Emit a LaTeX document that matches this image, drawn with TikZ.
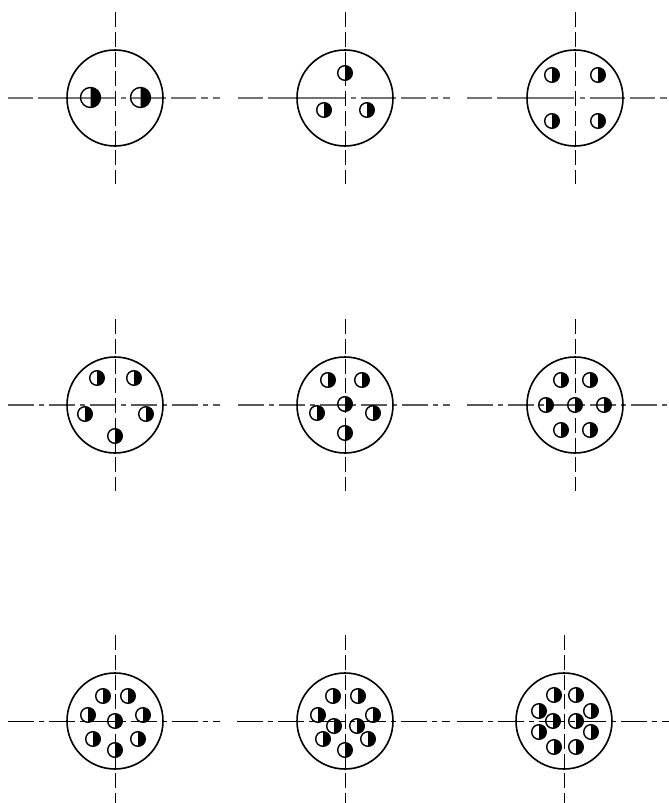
\documentclass[tikz,border=0pt]{standalone}
\tikzset{
  rim/.style={line width=0.8pt},
  axisv/.style={line width=0.5pt, dash pattern=on 7.5pt off 2.375pt},
  % dash-dot axis of the lower rows
  axish/.style={line width=0.6pt, black!65, dash pattern=on 13pt off 2.5pt on 2.5pt off 2.5pt},
  axisk/.style={line width=0.5pt, black, dash pattern=on 13pt off 2.5pt on 2.5pt off 2.5pt},
  % first row, long runs in the middle
  axisf/.style={line width=0.7pt, black!55, dash pattern=on 12.5pt off 2.5pt on 38.5pt off 3pt on 2.5pt off 2.5pt on 17.5pt off 2.5pt on 12.5pt off 2.5pt on 3.5pt off 2.5pt on 3.5pt off 9pt},
}
% one plate: centre, ends of the horizontal axis, ends of the vertical axis
\newcommand{\plate}[7][axish]{
  \draw[#1] (#4,#3) -- (#5,#3);
  \draw[axisv] (#2,#6) -- (#2,#7);
  \draw[rim] (#2,#3) circle [radius=48];
}
% list of holes, white on the left and black on the right
\newcommand{\holes}[2]{
  \foreach \x/\y in {#2} {
    \fill (\x,\y-#1) arc [start angle=-90, end angle=90, radius=#1] -- cycle;
    \draw[line width=0.7pt] (\x,\y) circle [radius=#1];
  }
}
\begin{document}
\begin{tikzpicture}[x=0.5pt, y=-0.5pt]
  \useasboundingbox (0,0) rectangle (669,803);

  % first row
  \plate[axisf]{115}{98}{8}{220}{12}{184}
  \plate[axisf]{345}{98}{238}{450}{12}{184}
  \plate[axisf]{575}{98}{467}{669}{12}{184}
  \holes{10}{90.5/97.5, 140.5/97.5}
  \holes{7.3}{345/73, 324/110, 367/110}
  \holes{7.3}{552/75, 598/75, 552/121, 598/121}

  % second row
  \plate{115}{405}{8}{220}{319}{491}
  \plate{345}{405}{238}{450}{319}{491}
  \plate{575}{405}{467}{669}{319}{491}
  \holes{7.3}{97/378, 134/378, 85/414, 146/414, 115/436}
  \holes{7.3}{328/380, 362/380, 317/413, 373/413, 345/404, 345/433}
  \holes{7.3}{561/380, 590/380, 546/405, 575/405, 604/405, 561/430, 590/430}

  % third row
  \plate[axisk]{115}{721}{8}{220}{635}{803}
  \plate[axisk]{345}{721}{237}{450}{635}{803}
  \plate[axisk]{564}{721}{457}{669}{635}{803}
  \holes{7.3}{103/696, 128/696, 88/715, 143/715, 115/721, 93/739, 138/739, 115/750}
  \holes{7.3}{333/696, 358/696, 318/715, 373/715, 334/726, 357/726, 323/739, 368/739, 345/750}
  \holes{7.3}{554/695, 576/695, 539/711, 591/711, 553/721, 576/721, 539/732, 591/732, 554/747, 576/747}
\end{tikzpicture}
\end{document}
